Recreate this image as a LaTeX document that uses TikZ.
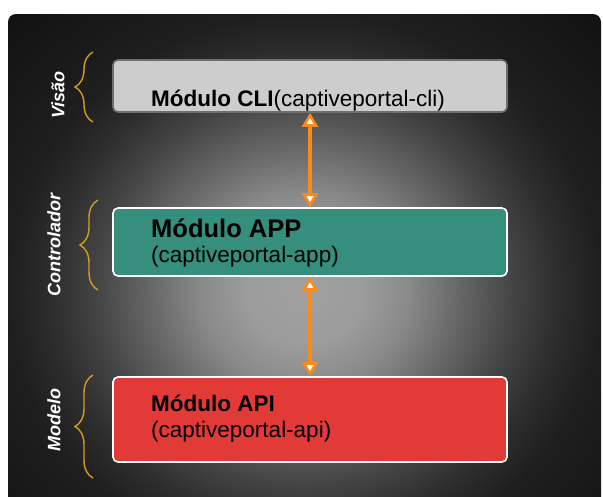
\documentclass[tikz,border=0pt]{standalone}
\usepackage{fontspec}
\setmainfont{Liberation Sans}
\usetikzlibrary{arrows.meta,decorations.pathreplacing}
\definecolor{cligray}{HTML}{CDCDCD}
\definecolor{cliedge}{HTML}{6E6E6E}
\definecolor{appteal}{HTML}{358F7C}
\definecolor{apired}{HTML}{E23A36}
\definecolor{linkorange}{HTML}{FA8A1A}
\definecolor{bracegold}{HTML}{D09E1C}
\pgfdeclareradialshading{stage}{\pgfpoint{0bp}{0bp}}{color(0bp)=(black!37); color(5bp)=(black!39); color(8.75bp)=(black!46); color(12.5bp)=(black!58); color(17.5bp)=(black!73); color(21.25bp)=(black!82); color(25bp)=(black!88); color(35bp)=(black!93); color(50bp)=(black!93)}
\begin{document}
\begin{tikzpicture}[x=1pt,y=-1pt,
    box/.style={rounded corners=5pt, minimum width=394pt, line width=1.6pt, draw=white},
    modtext/.style={anchor=base west, inner sep=0pt, font=\fontsize{22.5}{27}\selectfont},
    layer/.style={rotate=90, text=white, font=\fontsize{18}{20}\selectfont\bfseries\itshape},
    layerbrace/.style={draw=bracegold, line width=1.4pt, decorate, decoration={brace, amplitude=18pt}},
    link/.style={draw=linkorange, line width=3.2pt,
      {Triangle[fill=white, length=14pt, width=16pt, line width=2.6pt]}-{Triangle[fill=white, length=14pt, width=16pt, line width=2.6pt]}}]
  \useasboundingbox (0,0) rectangle (603,496);
  \fill[white] (0,0) rectangle (603,496);
  % backdrop
  \begin{scope}
    \clip[rounded corners=8pt] (8,14) rectangle (601,560);
    \shade[shading=stage] (8,14) rectangle (601,566);
  \end{scope}
  % modules
  \node[box, fill=cligray, draw=cliedge, minimum height=52pt] (cli) at (310,86) {};
  \node[box, fill=appteal, minimum height=68pt] (app) at (310,242) {};
  \node[box, fill=apired, minimum height=85pt] (api) at (310,419.5) {};
  \node[modtext] (cli-txt) at (151,106) {\textbf{Módulo CLI}(captiveportal-cli)};
  \node[modtext, font=\fontsize{25.5}{30}\selectfont\bfseries] (app-name) at (151,237) {Módulo APP};
  \node[modtext] (app-pkg) at (151,262) {(captiveportal-app)};
  \node[modtext, font=\fontsize{22.5}{27}\selectfont\bfseries] (api-name) at (151,411) {Módulo API};
  \node[modtext] (api-pkg) at (151,437) {(captiveportal-api)};
  % links
  \draw[link] (cli) -- (app);
  \draw[link] (app) -- (api);
  % layers
  \draw[layerbrace] (93,122) -- (93,52);
  \draw[layerbrace] (98,290) -- (98,200);
  \draw[layerbrace] (93,478) -- (93,375);
  \node[layer] (visao) at (58,95) {Visão};
  \node[layer] (controlador) at (54,245) {Controlador};
  \node[layer] (modelo) at (54,420) {Modelo};
\end{tikzpicture}
\end{document}
